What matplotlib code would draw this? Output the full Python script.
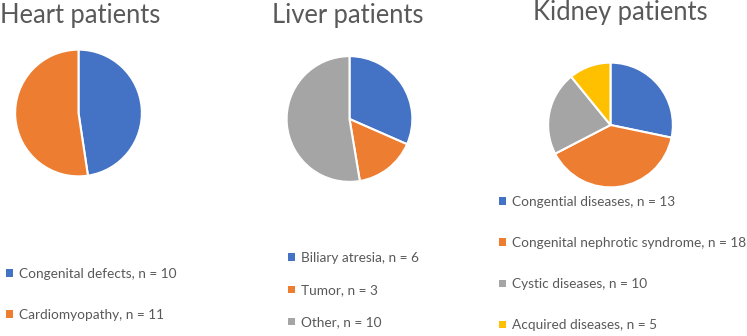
import matplotlib.pyplot as plt

# === DATA ===
heart_labels = ["Congenital defects, n = 10", "Cardiomyopathy, n = 11"]
heart_values = [10, 11]

liver_labels = ["Biliary atresia, n = 6", "Tumor, n = 3", "Other, n = 10"]
liver_values = [6, 3, 10]

kidney_labels = ["Congential diseases, n = 13", "Congenital nephrotic syndrome, n = 18",
                 "Cystic diseases, n = 10", "Acquired diseases, n = 5"]
kidney_values = [13, 18, 10, 5]

titles = ["Heart patients", "Liver patients", "Kidney patients"]

colors = ['#4472C4', '#ED7D31', '#A5A5A5', '#FFC000']
text_color = '#595959'

plt.rcParams['font.family'] = ['Lato', 'DejaVu Sans']

W, H = 747, 336
fig = plt.figure(figsize=(W / 100, H / 100), dpi=100)


def px_axes(cx, cy, r):
    # axes square around a pie centre given in pixel coords (y from top)
    return fig.add_axes([(cx - r) / W, (H - cy - r) / H, 2 * r / W, 2 * r / H])


panels = [
    # values, labels, pie centre/radius, title pos, legend anchor, label spacing
    (heart_values, heart_labels, (78.5, 113, 64), (0, 23), (6, 268), 2.14),
    (liver_values, liver_labels, (349.5, 119, 63.5), (272, 23), (288, 252), 1.48),
    (kidney_values, kidney_labels, (610.5, 125, 63), (533, 20), (499, 196), 2.14),
]

for (vals, labs, (cx, cy, r), (tx, ty), (lx, ly), spacing), title in zip(panels, titles):
    ax = px_axes(cx, cy, r)
    wedges, _ = ax.pie(vals, colors=colors[:len(vals)], startangle=90, counterclock=False,
                       wedgeprops=dict(edgecolor='white', linewidth=1.5))
    ax.set_xlim(-1.01, 1.01)
    ax.set_ylim(-1.01, 1.01)
    ax.set_axis_off()

    fig.text(tx / W, 1 - ty / H, title, fontsize=18.4, color=text_color,
             ha='left', va='baseline')

    leg = fig.legend(wedges, labs, loc='upper left', bbox_to_anchor=(lx / W, 1 - ly / H),
                     frameon=False, fontsize=9.8, labelcolor=text_color,
                     handlelength=0.48, handleheight=0.48, handletextpad=0.45,
                     labelspacing=spacing, borderpad=0, borderaxespad=0)
    for h in leg.legend_handles:
        h.set_edgecolor('none')

fig.savefig("out.png", dpi=100)
